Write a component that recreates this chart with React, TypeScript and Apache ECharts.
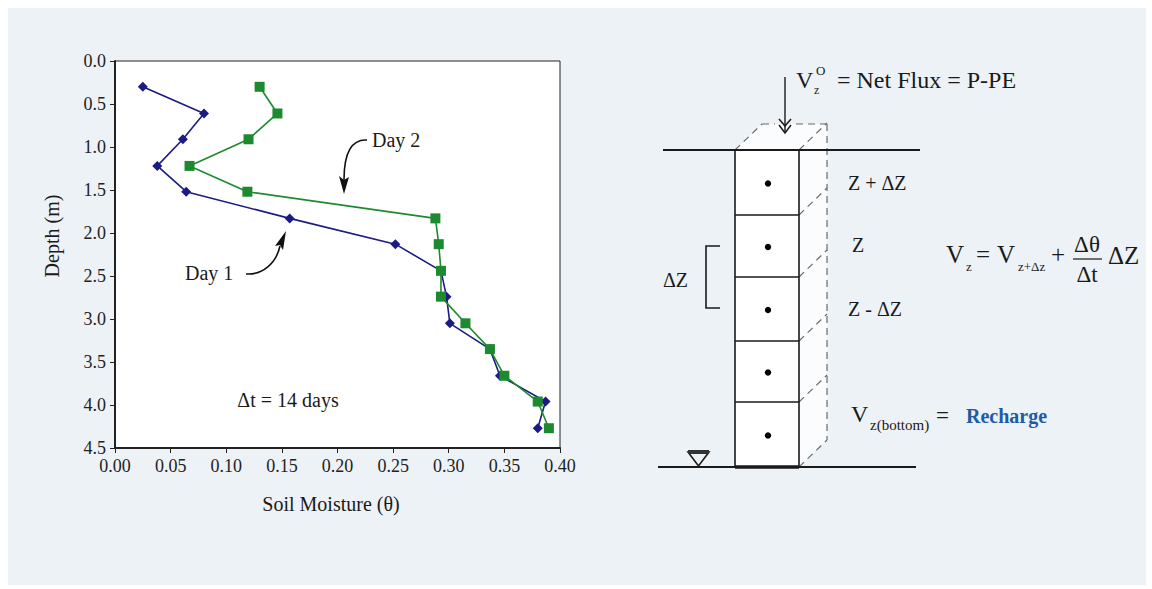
import React, { useEffect, useRef } from "react";
import * as echarts from "echarts";

// ---- data ----
const depthsM = [0.30, 0.61, 0.91, 1.22, 1.52, 1.83, 2.13, 2.44, 2.74, 3.05, 3.35, 3.66, 3.96, 4.27];
const day1Moisture = [0.025, 0.080, 0.061, 0.038, 0.064, 0.157, 0.252, 0.293, 0.298, 0.301, 0.337, 0.346, 0.387, 0.380];
const day2Moisture = [0.130, 0.146, 0.120, 0.067, 0.119, 0.288, 0.291, 0.293, 0.293, 0.315, 0.337, 0.350, 0.380, 0.390];
const seriesNames = ["Day 1", "Day 2"];
const xTickStep = 0.05;
const yTickStep = 0.5;
const xMax = 0.4;
const yMax = 4.5;
const cellLines = [150, 215, 277, 341, 402, 467];

const SERIF = "'Liberation Serif', 'Times New Roman', serif";
const BLUE = "#1b1b86";
const GREEN = "#1d8a2f";
const BG = "#edf2f6";

function txt(text: string, x: number, y: number, size: number, opts: any = {}) {
  return {
    type: "text",
    x,
    y,
    rotation: opts.rotation || 0,
    style: {
      text,
      fontSize: size,
      fontFamily: SERIF,
      fontWeight: opts.bold ? "bold" : "normal",
      fill: opts.fill || "#1a1a1a",
      align: opts.align || "left",
      verticalAlign: "middle",
    },
  };
}

function dline(x1: number, y1: number, x2: number, y2: number) {
  return {
    type: "line",
    shape: { x1, y1, x2, y2 },
    style: { stroke: "#6a6a6a", lineWidth: 1.2, lineDash: [7, 5] },
  };
}

function sline(x1: number, y1: number, x2: number, y2: number, w = 1.5) {
  return {
    type: "line",
    shape: { x1, y1, x2, y2 },
    style: { stroke: "#1a1a1a", lineWidth: w },
  };
}

export default function App() {
  const ref = useRef<HTMLDivElement>(null);

  useEffect(() => {
    if (!ref.current) return;
    const chart = echarts.init(ref.current, null, { renderer: "svg" });

    const colLeft = 735;
    const colRight = 799;
    const backX = 827;
    const dz = 27;

    const children: any[] = [];
    // 3D box faces (white)
    children.push({
      type: "polygon",
      shape: {
        points: [
          [colLeft, 150],
          [colLeft + 27, 124],
          [backX, 124],
          [backX, 440],
          [colRight, 467],
          [colLeft, 467],
        ],
      },
      style: { fill: "#fbfcfd" },
    });
    // dashed back edges
    children.push(dline(colLeft, 150, colLeft + 27, 124));
    children.push(dline(colLeft + 27, 124, 775, 124));
    children.push(dline(796, 124, backX, 124));
    children.push(dline(backX, 124, backX, 440));
    cellLines.forEach((y) => children.push(dline(colRight, y, backX, y - dz)));
    // column front
    children.push({
      type: "rect",
      shape: { x: colLeft, y: 150, width: colRight - colLeft, height: 317 },
      style: { fill: "#ffffff", stroke: "#1a1a1a", lineWidth: 1.6 },
    });
    cellLines.slice(1, -1).forEach((y) => children.push(sline(colLeft, y, colRight, y, 1.5)));
    children.push(sline(colLeft, 467, colRight, 467, 3.5));
    // ground lines
    children.push(sline(663, 150, 920, 150, 2));
    children.push(sline(658, 467, 916, 467, 1.8));
    // dots
    for (let i = 0; i < cellLines.length - 1; i++) {
      children.push({
        type: "circle",
        shape: { cx: 768, cy: (cellLines[i] + cellLines[i + 1]) / 2 + 1, r: 3.2 },
        style: { fill: "#000" },
      });
    }
    // flux arrow
    children.push(sline(785, 77, 785, 132, 1.4));
    children.push({
      type: "polyline",
      shape: { points: [[779, 119], [785, 126], [791, 119]] },
      style: { stroke: "#1a1a1a", lineWidth: 1.5, fill: "none" },
    });
    children.push({
      type: "polyline",
      shape: { points: [[779, 125], [785, 133], [791, 125]] },
      style: { stroke: "#1a1a1a", lineWidth: 1.5, fill: "none" },
    });
    // bracket
    children.push({
      type: "polyline",
      shape: { points: [[720, 246], [706, 246], [706, 308], [720, 308]] },
      style: { stroke: "#1a1a1a", lineWidth: 1.6, fill: "none" },
    });
    // water table symbol
    children.push({
      type: "polygon",
      shape: { points: [[688, 452], [709, 452], [698.5, 466]] },
      style: { fill: "none", stroke: "#1a1a1a", lineWidth: 1.6 },
    });
    children.push({
      type: "rect",
      shape: { x: 688, y: 450, width: 21, height: 4 },
      style: { fill: "#333" },
    });

    // diagram texts
    children.push(txt("V", 796, 80, 24));
    children.push(txt("z", 814, 90, 12));
    children.push(txt("O", 816, 70, 13));
    children.push(txt("= Net Flux = P-PE", 837, 80, 24));
    children.push(txt("Z + ΔZ", 848, 183, 20));
    children.push(txt("Z", 852, 245, 20));
    children.push(txt("Z - ΔZ", 848, 309, 20));
    children.push(txt("ΔZ", 663, 280, 20));
    // formula
    children.push(txt("V", 946, 254, 25));
    children.push(txt("z", 966, 266, 13));
    children.push(txt("=", 976, 254, 25));
    children.push(txt("V", 997, 254, 25));
    children.push(txt("z+Δz", 1018, 266, 13));
    children.push(txt("+", 1051, 254, 25));
    children.push(txt("Δθ", 1087, 244, 23, { align: "center" }));
    children.push(sline(1073, 259, 1102, 259, 1.2));
    children.push(txt("Δt", 1087, 274, 23, { align: "center" }));
    children.push(txt("ΔZ", 1108, 255, 25));
    // recharge
    children.push(txt("V", 851, 414, 24));
    children.push(txt("z(bottom)", 870, 425, 15));
    children.push(txt("=", 936, 415, 23));
    children.push(txt("Recharge", 966, 416, 20, { bold: true, fill: "#1f5aa6" }));

    // chart annotations
    children.push(txt("Depth (m)", 52, 236, 20, { align: "center", rotation: Math.PI / 2 }));
    children.push(txt("Soil Moisture (θ)", 331, 504, 20, { align: "center" }));
    children.push(txt("Δt = 14 days", 288, 400, 20, { align: "center" }));
    children.push(txt("Day 2", 372, 140, 20));
    children.push(txt("Day 1", 185, 273, 20));
    children.push({
      type: "bezierCurve",
      shape: { x1: 367, y1: 140, cpx1: 352, cpy1: 139, cpx2: 344, cpy2: 152, x2: 344, y2: 180 },
      style: { stroke: "#111", lineWidth: 1.6, fill: "none" },
    });
    children.push({
      type: "polygon",
      shape: { points: [[344, 194], [339, 176], [344, 180], [349, 177]] },
      style: { fill: "#111" },
    });
    children.push({
      type: "bezierCurve",
      shape: { x1: 246, y1: 274, cpx1: 262, cpy1: 275, cpx2: 276, cpy2: 264, x2: 280, y2: 246 },
      style: { stroke: "#111", lineWidth: 1.6, fill: "none" },
    });
    children.push({
      type: "polygon",
      shape: { points: [[286, 231], [283, 250], [280, 245], [275, 246]] },
      style: { fill: "#111" },
    });

    const axisLabelStyle = { fontFamily: SERIF, fontSize: 18, color: "#222" };

    chart.setOption({
      animation: false,
      grid: {
        left: 107,
        top: 53,
        right: 586,
        bottom: 137,
        show: true,
        backgroundColor: "#ffffff",
        borderColor: "#222",
        borderWidth: 1,
      },
      xAxis: {
        type: "value",
        min: 0,
        max: xMax,
        interval: xTickStep,
        axisLine: { onZero: false, lineStyle: { color: "#222", width: 2 } },
        axisTick: { show: true, length: 5, lineStyle: { color: "#222" } },
        splitLine: { show: false },
        axisLabel: { ...axisLabelStyle, margin: 9, formatter: (v: number) => v.toFixed(2) },
      },
      yAxis: {
        type: "value",
        inverse: true,
        min: 0,
        max: yMax,
        interval: yTickStep,
        axisLine: { show: true, onZero: false, lineStyle: { color: "#222", width: 2 } },
        axisTick: { show: true, length: 5, lineStyle: { color: "#222" } },
        splitLine: { show: false },
        axisLabel: { ...axisLabelStyle, margin: 9, formatter: (v: number) => v.toFixed(1) },
      },
      series: [
        {
          name: seriesNames[0],
          type: "line",
          data: day1Moisture.map((m, i) => [m, depthsM[i]]),
          symbol: "diamond",
          symbolSize: [10, 10],
          lineStyle: { color: BLUE, width: 1.6 },
          itemStyle: { color: BLUE },
          z: 2,
        },
        {
          name: seriesNames[1],
          type: "line",
          data: day2Moisture.map((m, i) => [m, depthsM[i]]),
          symbol: "rect",
          symbolSize: 10,
          lineStyle: { color: GREEN, width: 1.6 },
          itemStyle: { color: GREEN },
          z: 3,
        },
      ],
      graphic: [{ type: "group", x: -8, y: -8, children }],
    });

    return () => chart.dispose();
  }, []);

  return (
    <div
      ref={ref}
      style={{
        position: "absolute",
        left: 8,
        top: 8,
        width: 1138,
        height: 577,
        background: BG,
      }}
    />
  );
}
